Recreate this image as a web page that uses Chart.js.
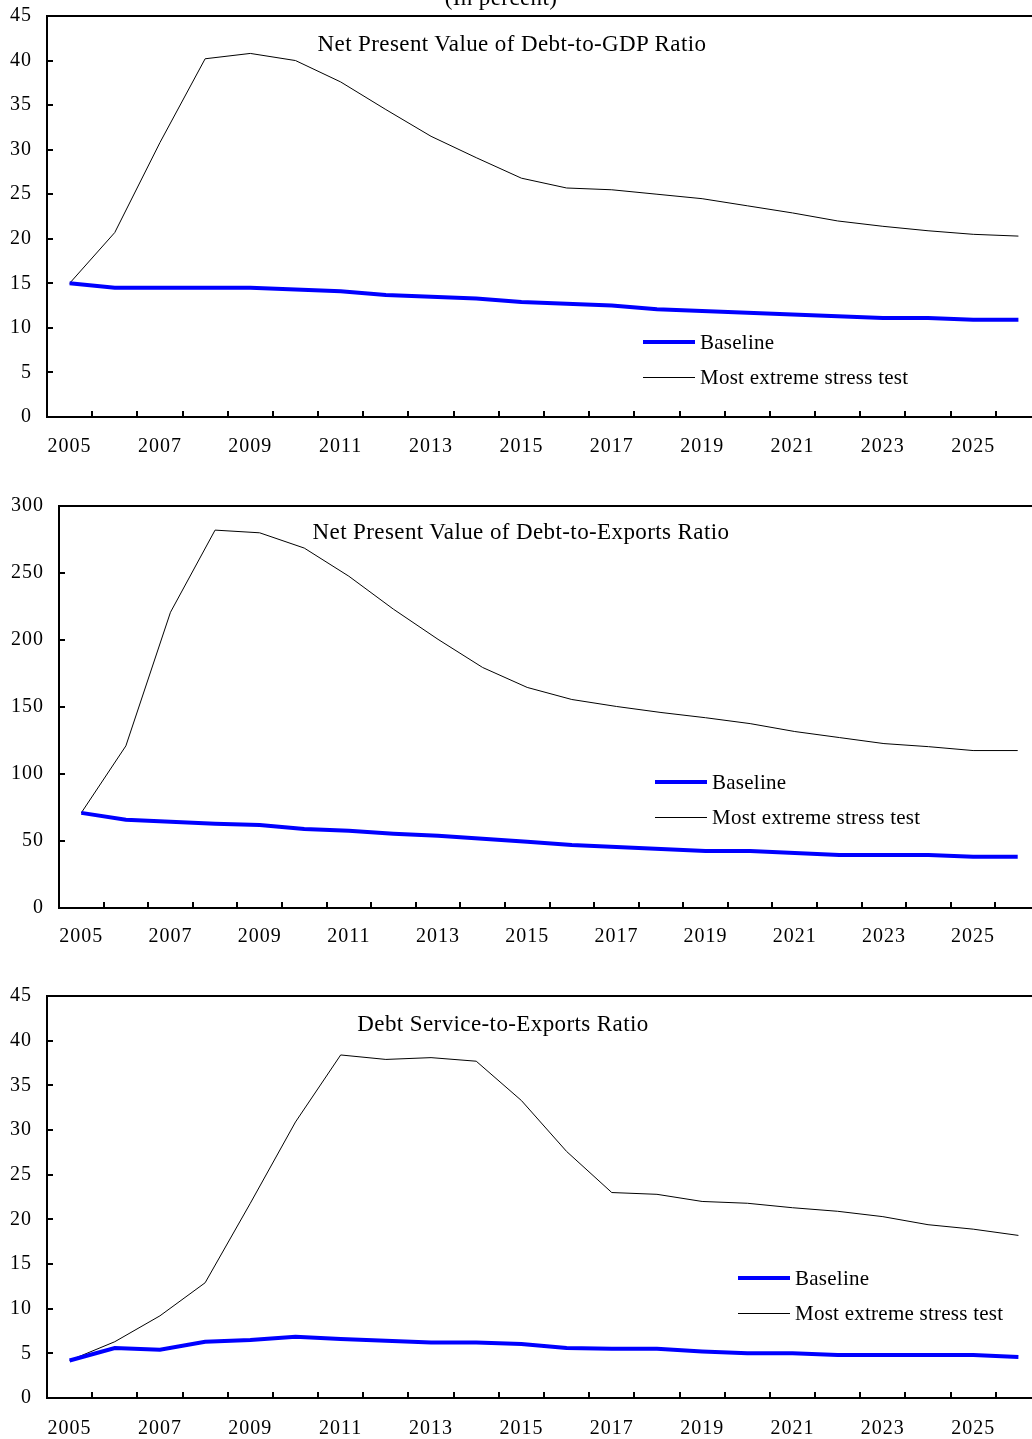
<!DOCTYPE html>
<html>
<head>
<meta charset="utf-8">
<script src="https://cdn.jsdelivr.net/npm/chart.js@4.4.1/dist/chart.umd.min.js"></script>
<style>
  html, body { margin: 0; padding: 0; background: #fff; }
  #page {
    position: relative; width: 1032px; height: 1439px; overflow: hidden;
    font-family: "Liberation Serif", "Times New Roman", serif; color: #000;
  }
  #page canvas { position: absolute; left: 0; }
  .title {
    position: absolute; white-space: nowrap; font-size: 23px; line-height: 23px;
    letter-spacing: 0.4px; transform: translateX(-50%);
  }
  .key { position: absolute; height: 24px; white-space: nowrap; }
  .key .swatch { position: absolute; left: 0; width: 52px; }
  .key .label {
    position: absolute; left: 57px; top: 0; font-size: 21px; line-height: 24px;
    letter-spacing: 0.25px;
  }
</style>
</head>
<body>
<div id="page">
  <canvas id="c1" width="1050" height="481" style="top:-11px"></canvas>
  <canvas id="c2" width="1050" height="481" style="top:479px"></canvas>
  <canvas id="c3" width="1050" height="469" style="top:969px"></canvas>

  <div class="title" style="left:501px; top:-14px;">(In percent)</div>

  <div class="title" style="left:512px; top:32px;">Net Present Value of Debt-to-GDP Ratio</div>
  <div class="title" style="left:521px; top:520px;">Net Present Value of Debt-to-Exports Ratio</div>
  <div class="title" style="left:503px; top:1012px;">Debt Service-to-Exports Ratio</div>

  <div class="key" style="left:643px; top:330px;">
    <div class="swatch" style="top:10px; height:4px; background:#0000ff;"></div>
    <div class="label">Baseline</div>
  </div>
  <div class="key" style="left:643px; top:365px;">
    <div class="swatch" style="top:12px; height:1px; background:#000;"></div>
    <div class="label">Most extreme stress test</div>
  </div>

  <div class="key" style="left:655px; top:770px;">
    <div class="swatch" style="top:10px; height:4px; background:#0000ff;"></div>
    <div class="label">Baseline</div>
  </div>
  <div class="key" style="left:655px; top:805px;">
    <div class="swatch" style="top:12px; height:1px; background:#000;"></div>
    <div class="label">Most extreme stress test</div>
  </div>

  <div class="key" style="left:738px; top:1266px;">
    <div class="swatch" style="top:10px; height:4px; background:#0000ff;"></div>
    <div class="label">Baseline</div>
  </div>
  <div class="key" style="left:738px; top:1301px;">
    <div class="swatch" style="top:12px; height:1px; background:#000;"></div>
    <div class="label">Most extreme stress test</div>
  </div>
</div>

<script>
// Projection years
const years = ['2005','2006','2007','2008','2009','2010','2011','2012','2013','2014','2015',
               '2016','2017','2018','2019','2020','2021','2022','2023','2024','2025','2026'];

// Net present value of debt-to-GDP ratio (percent)
const gdpBaseline = [15.0,14.5,14.5,14.5,14.5,14.3,14.1,13.7,13.5,13.3,12.9,
                     12.7,12.5,12.1,11.9,11.7,11.5,11.3,11.1,11.1,10.9,10.9];
const gdpStress   = [15.0,20.7,30.8,40.2,40.8,40.0,37.6,34.5,31.5,29.1,26.8,
                     25.7,25.5,25.0,24.5,23.7,22.9,22.0,21.4,20.9,20.5,20.3];

// Net present value of debt-to-exports ratio (percent)
const expBaseline = [71.0,65.8,64.3,62.8,62.0,59.0,57.6,55.4,53.9,51.6,49.4,
                     47.1,45.6,44.1,42.6,42.6,41.1,39.6,39.6,39.6,38.2,38.2];
const expStress   = [71.0,121.0,220.7,282.0,280.0,268.6,247.6,223.0,200.5,179.5,164.6,
                     155.6,150.4,145.9,142.0,137.6,131.7,127.2,122.7,120.4,117.5,117.5];

// Debt service-to-exports ratio (percent)
const dsBaseline  = [4.2,5.6,5.4,6.3,6.5,6.85,6.6,6.4,6.2,6.2,6.05,
                     5.6,5.5,5.5,5.2,5.0,5.0,4.8,4.8,4.8,4.8,4.6];
const dsStress    = [4.2,6.3,9.2,12.9,21.8,30.9,38.4,37.9,38.1,37.7,33.3,
                     27.6,23.0,22.8,22.0,21.8,21.3,20.9,20.3,19.4,18.9,18.2];

// Y-axis ranges
const gdpAxis = { max: 45, step: 5 };
const expAxis = { max: 300, step: 50 };
const dsAxis  = { max: 45, step: 5 };

const FONT = '"Liberation Serif", "Times New Roman", serif';

// Plot frame: box outline plus short inward tick marks on both axes
const framePlugin = {
  id: 'frame',
  beforeDraw(chart) {
    chart.ctx.letterSpacing = '1px';
  },
  afterDraw(chart) {
    const { ctx, chartArea: a, scales: { x, y } } = chart;
    ctx.save();
    ctx.letterSpacing = '0px';
    ctx.strokeStyle = '#000';
    ctx.lineWidth = 2;
    ctx.beginPath();
    ctx.moveTo(a.left, a.top);
    ctx.lineTo(a.right, a.top);
    ctx.lineTo(a.right, a.bottom);
    ctx.stroke();

    // x tick marks sit on the boundaries between years
    const band = x.getPixelForValue(1) - x.getPixelForValue(0);
    ctx.beginPath();
    for (let i = 1; i < years.length; i++) {
      const px = Math.round(x.getPixelForValue(i) - band / 2);
      ctx.moveTo(px, a.bottom);
      ctx.lineTo(px, a.bottom - 6);
    }
    // y tick marks at each labelled value
    y.ticks.forEach(t => {
      const py = Math.round(y.getPixelForValue(t.value));
      ctx.moveTo(a.left, py);
      ctx.lineTo(a.left + 6, py);
    });
    ctx.stroke();
    ctx.restore();
  }
};

function makeChart(id, baseline, stress, axis, layout) {
  return new Chart(document.getElementById(id), {
    type: 'line',
    data: {
      labels: years,
      datasets: [
        { label: 'Baseline', data: baseline, borderColor: '#0000ff', borderWidth: 4,
          pointRadius: 0, tension: 0, fill: false },
        { label: 'Most extreme stress test', data: stress, borderColor: '#000', borderWidth: 1,
          pointRadius: 0, tension: 0, fill: false }
      ]
    },
    options: {
      responsive: false,
      animation: false,
      devicePixelRatio: 1,
      layout: { padding: { top: layout.top, right: layout.right, left: 0, bottom: 0 } },
      plugins: { legend: { display: false }, tooltip: { enabled: false }, title: { display: false } },
      scales: {
        x: {
          type: 'category',
          offset: true,
          grid: { display: false, drawTicks: false },
          border: { display: true, color: '#000', width: 2 },
          ticks: {
            autoSkip: false, maxRotation: 0, minRotation: 0,
            padding: layout.xPad, color: '#000',
            font: { family: FONT, size: 20 },
            callback: (v, i) => (i % 2 === 0 ? years[i] : '')
          },
          afterFit: s => { s.height = layout.xHeight; }
        },
        y: {
          min: 0, max: axis.max,
          grid: { display: false, drawTicks: false },
          border: { display: true, color: '#000', width: 2 },
          ticks: {
            stepSize: axis.step, padding: 15, color: '#000',
            font: { family: FONT, size: 20 }
          },
          afterFit: s => { s.width = layout.yWidth; }
        }
      }
    },
    plugins: [framePlugin]
  });
}

makeChart('c1', gdpBaseline, gdpStress, gdpAxis,
  { top: 16, right: 9, yWidth: 47, xHeight: 53, xPad: 18 });
makeChart('c2', expBaseline, expStress, expAxis,
  { top: 16, right: 10, yWidth: 59, xHeight: 52, xPad: 17 });
makeChart('c3', dsBaseline, dsStress, dsAxis,
  { top: 16, right: 9, yWidth: 47, xHeight: 40, xPad: 19 });
</script>
</body>
</html>
